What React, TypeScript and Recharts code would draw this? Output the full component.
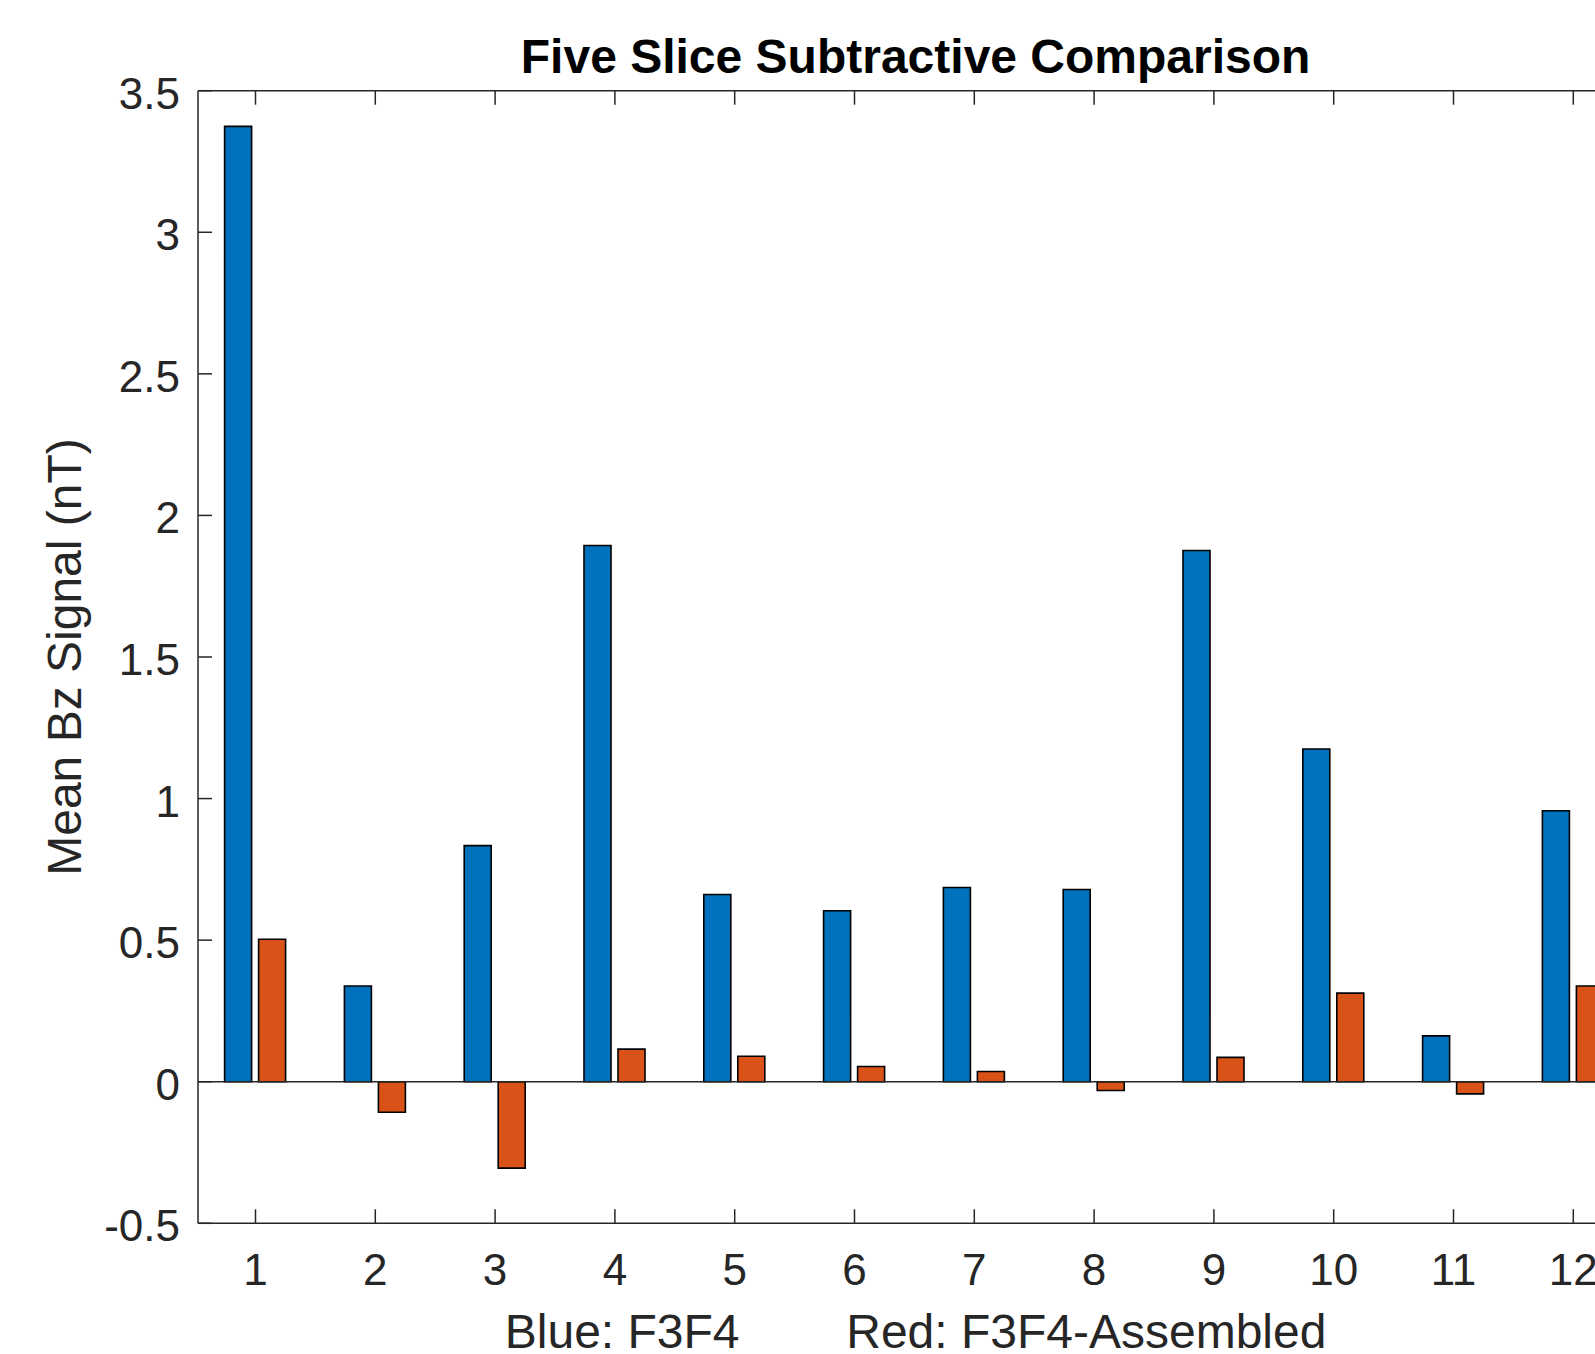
import { BarChart, Bar, XAxis, YAxis, ReferenceLine, Label } from 'recharts'

const slices = ['1', '2', '3', '4', '5', '6', '7', '8', '9', '10', '11', '12']
const f3f4 = [3.374, 0.338, 0.834, 1.894, 0.661, 0.604, 0.686, 0.679, 1.876, 1.175, 0.162, 0.957]
const f3f4Assembled = [0.503, -0.108, -0.305, 0.115, 0.09, 0.054, 0.036, -0.031, 0.086, 0.313, -0.043, 0.338]
const yTicks = [-0.5, 0, 0.5, 1, 1.5, 2, 2.5, 3, 3.5]

const data = slices.map((s, i) => ({ slice: s, f3f4: f3f4[i], assembled: f3f4Assembled[i] }))

const AXIS = '#262626'
const FONT = '"Liberation Sans", Arial, Helvetica, sans-serif'
const TICK_LEN = 14

function BottomTick({ x, y, payload }: any) {
  return (
    <g>
      <line x1={x} x2={x} y1={y} y2={y - TICK_LEN} stroke={AXIS} strokeWidth={1.5} />
      <text x={x} y={y + 62} textAnchor="middle" fontSize={44} fontFamily={FONT} fill={AXIS}>
        {payload.value}
      </text>
    </g>
  )
}

function TopTick({ x, y }: any) {
  return <line x1={x} x2={x} y1={y} y2={y + TICK_LEN} stroke={AXIS} strokeWidth={1.5} />
}

function LeftTick({ x, y, payload }: any) {
  return (
    <g>
      <line x1={x} x2={x + TICK_LEN} y1={y} y2={y} stroke={AXIS} strokeWidth={1.5} />
      <text x={x - 18} y={y + 18} textAnchor="end" fontSize={44} fontFamily={FONT} fill={AXIS}>
        {String(payload.value)}
      </text>
    </g>
  )
}

export default function App() {
  return (
    <div style={{ position: 'relative', width: 1595, height: 1354, overflow: 'hidden', background: '#fff' }}>
      <style>{'body{margin:0;overflow:hidden}'}</style>
      <BarChart
        width={1660}
        height={1354}
        data={data}
        margin={{ top: 60.7, right: 26.8, bottom: 0, left: 0 }}
        barSize={27}
        barGap={7}
      >
        <XAxis
          xAxisId="top"
          orientation="top"
          dataKey="slice"
          height={30}
          interval={0}
          padding={{ left: -2.4, right: 0 }}
          tickSize={0}
          tickMargin={0}
          tickLine={false}
          axisLine={{ stroke: AXIS, strokeWidth: 1.5 }}
          tick={<TopTick />}
        >
          <Label
            content={({ viewBox }: any) => (
              <text
                x={viewBox.x + viewBox.width / 2}
                y={73}
                textAnchor="middle"
                fontSize={48}
                fontWeight="bold"
                fontFamily={FONT}
                fill="#000"
              >
                Five Slice Subtractive Comparison
              </text>
            )}
          />
        </XAxis>
        <XAxis
          dataKey="slice"
          height={130.7}
          interval={0}
          padding={{ left: -2.4, right: 0 }}
          tickSize={0}
          tickMargin={0}
          tickLine={false}
          axisLine={{ stroke: AXIS, strokeWidth: 1.5 }}
          tick={<BottomTick />}
        >
          <Label
            content={({ viewBox }: any) => (
              <text
                x={viewBox.x + viewBox.width / 2}
                y={1348}
                textAnchor="middle"
                fontSize={48}
                fontFamily={FONT}
                fill={AXIS}
              >
                {'Blue: F3F4\u00A0\u00A0\u00A0\u00A0\u00A0\u00A0\u00A0\u00A0Red: F3F4-Assembled'}
              </text>
            )}
          />
        </XAxis>
        <YAxis
          type="number"
          domain={[-0.5, 3.5]}
          ticks={yTicks}
          allowDataOverflow
          width={198}
          tickSize={0}
          tickMargin={0}
          tickLine={false}
          axisLine={{ stroke: AXIS, strokeWidth: 1.5 }}
          tick={<LeftTick />}
        >
          <Label
            content={({ viewBox }: any) => {
              const cy = viewBox.y + viewBox.height / 2
              return (
                <text
                  x={81}
                  y={cy}
                  transform={`rotate(-90, 81, ${cy})`}
                  textAnchor="middle"
                  fontSize={48}
                  fontFamily={FONT}
                  fill={AXIS}
                >
                  Mean Bz Signal (nT)
                </text>
              )
            }}
          />
        </YAxis>
        <ReferenceLine y={0} stroke={AXIS} strokeWidth={1.3} />
        <Bar dataKey="f3f4" fill="#0072BD" stroke="#000" strokeWidth={1.6} isAnimationActive={false} />
        <Bar dataKey="assembled" fill="#D95319" stroke="#000" strokeWidth={1.6} isAnimationActive={false} />
      </BarChart>
    </div>
  )
}
